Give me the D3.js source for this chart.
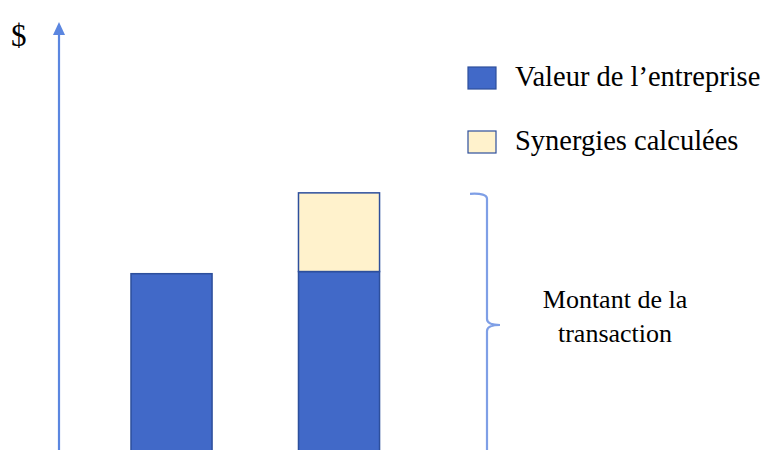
<!DOCTYPE html>
<html><head><meta charset="utf-8">
<script src="https://cdn.jsdelivr.net/npm/d3@7"></script>
<style>html,body{margin:0;padding:0;background:#fff;}svg{display:block;} text{font-family:"Liberation Serif","Times New Roman","DejaVu Serif",serif;}</style>
</head><body>
<svg id="c" width="767" height="450"></svg>
<script>
const categories = ["Cible seule", "Avec synergies"];
const enterpriseValues = [41, 41.5];
const synergyValues = [0, 18.3];
const legendLabels = ["Valeur de l\u2019entreprise", "Synergies calculées"];
const axisLabel = "$";
const braceLabel = ["Montant de la", "transaction"];

const svg = d3.select("#c");
const blue = "#4169c8", blueStroke = "#2d4f9c", yellow = "#fff2cc";

const y = d3.scaleLinear().domain([0, 100]).range([450, 20]);
const x = d3.scaleBand().domain(categories).range([47.25, 463.3]).paddingInner(0.516).paddingOuter(0.5);

// Axis with arrow
svg.append("line").attr("x1",59).attr("x2",59).attr("y1",450).attr("y2",34)
  .attr("stroke","#5b86e0").attr("stroke-width",2.2);
svg.append("path").attr("d","M53,35 L59,22 L65,35 Z").attr("fill","#5b86e0");

svg.append("text").attr("x",11).attr("y",46).attr("font-size",31).attr("fill","#000").text(axisLabel);

// Bars
const g = svg.append("g");
categories.forEach((c,i)=>{
  g.append("rect").attr("x",x(c)).attr("width",x.bandwidth())
    .attr("y",y(enterpriseValues[i])).attr("height",y(0)-y(enterpriseValues[i])+10)
    .attr("fill",blue).attr("stroke",blueStroke).attr("stroke-width",1.5);
  if (synergyValues[i] > 0) {
    const top = enterpriseValues[i] + synergyValues[i];
    g.append("rect").attr("x",x(c)).attr("width",x.bandwidth())
      .attr("y",y(top)).attr("height",y(enterpriseValues[i])-y(top))
      .attr("fill",yellow).attr("stroke",blueStroke).attr("stroke-width",1.5);
  }
});

// Brace
const totTop = y(enterpriseValues[1] + synergyValues[1]);
const bx = 487, mid = 325;
svg.append("path")
  .attr("d",`M470,${totTop+1} Q487,${totTop} ${bx},${totTop+6} L${bx},${mid-6} Q${bx},${mid} 500,${mid} Q${bx},${mid} ${bx},${mid+6} L${bx},455`)
  .attr("fill","none").attr("stroke","#7f9fe6").attr("stroke-width",2.2);

svg.append("text").attr("text-anchor","middle").attr("font-size",26).attr("fill","#000")
  .selectAll("tspan").data(braceLabel).join("tspan").attr("x",615).attr("y",(d,i)=>308+i*34).text(d=>d);

// Legend
const legColors = [blue, yellow];
legendLabels.forEach((l,i)=>{
  const ly = 67 + i*64;
  svg.append("rect").attr("x",468).attr("y",ly).attr("width",28).attr("height",22)
    .attr("fill",legColors[i]).attr("stroke",blueStroke).attr("stroke-width",1.2);
  svg.append("text").attr("x",515).attr("y",ly+19).attr("font-size",28.5).attr("fill","#000").text(l);
});
</script>
</body></html>
